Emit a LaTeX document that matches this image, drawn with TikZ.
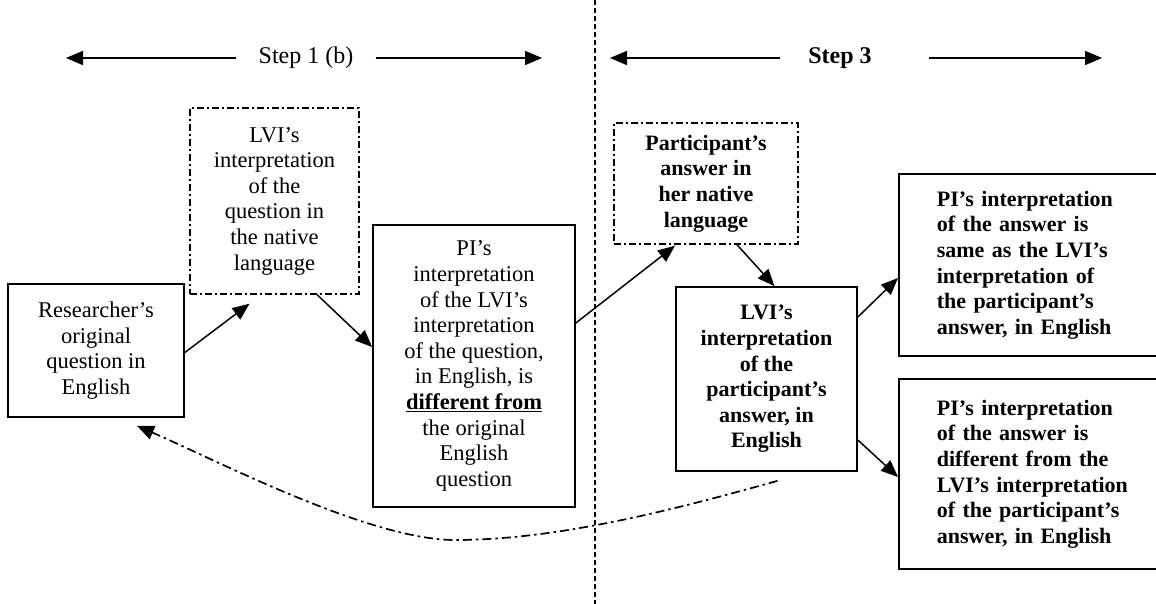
\documentclass[tikz,border=0pt]{standalone}
\usepackage{fontspec}
\setmainfont{Liberation Serif}
\usetikzlibrary{arrows.meta,calc}

\newlength{\du}
\setlength{\du}{1pt}

\tikzset{
  plainbox/.style={draw, line width=1.7pt, align=center, inner sep=0pt,
    font=\fontsize{22.5}{25.6}\selectfont},
  dotbox/.style={plainbox, line width=1.4pt,
    dash pattern=on 7pt off 3pt on 2pt off 3pt},
  sidebox/.style={plainbox, align=left, text width=232\du, inner xsep=38\du,
    anchor=west, font=\fontsize{22}{25.6}\selectfont\bfseries},
  flow/.style={line width=1.5pt, -{Triangle[length=17pt,width=14pt]}},
  backflow/.style={flow, line width=1.7pt,
    dash pattern=on 9pt off 4pt on 2.5pt off 4pt},
  headlabel/.style={inner xsep=22\du, font=\fontsize{24}{28}\selectfont},
  headarrow/.style={line width=1.7pt, -{Triangle[length=17pt,width=14pt]}},
  divider/.style={line width=1.3pt, dash pattern=on 5pt off 3pt}
}

\begin{document}
\begin{tikzpicture}[x=\du,y=-\du]
\clip (0,0) rectangle (1156,604);
\fill[white] (0,0) rectangle (1156,604);

% step headers
\node[headlabel] (st1) at (306,58) {Step 1 (b)};
\node[headlabel, font=\fontsize{24}{28}\selectfont\bfseries] (st3) at (840,58) {Step 3};
\coordinate (st1l) at (66,58);
\coordinate (st1r) at (542,58);
\coordinate (st3l) at (610,58);
\coordinate (st3r) at (1102,58);
\draw[headarrow] (st1.west) -- (st1l);
\draw[headarrow] (st1.east) -- (st1r);
\draw[headarrow] ([xshift=-6\du]st3.west) -- (st3l);
\draw[headarrow] ([xshift=35\du]st3.east) -- (st3r);

% divider between the two steps
\coordinate (divtop) at (595,0);
\coordinate (divbot) at (595,604);
\draw[divider] (divtop) -- (divbot);

% step 1 (b)
\node[plainbox, minimum width=176\du, minimum height=133\du] (res) at (96,350.5)
  {Researcher’s\\original\\question in\\English};
\node[dotbox, minimum width=169\du, minimum height=186\du] (lvq) at (274.5,201)
  {LVI’s\\interpretation\\of the\\question in\\the native\\language};
\node[plainbox, minimum width=202\du, minimum height=282\du] (pid) at (474,366)
  {PI’s\\interpretation\\of the LVI’s\\interpretation\\of the question,\\in English, is\\
   \underline{\textbf{different from}}\\the original\\English\\question};

% step 3
\node[dotbox, minimum width=184\du, minimum height=121\du,
  font=\fontsize{22}{25.6}\selectfont\bfseries] (par) at (706,183.5)
  {Participant’s\\answer in\\her native\\language};
\node[plainbox, minimum width=181\du, minimum height=184\du,
  font=\fontsize{22}{25.6}\selectfont\bfseries] (lva) at (766.5,379)
  {LVI’s\\interpretation\\of the\\participant’s\\answer, in\\English};
\node[sidebox, minimum height=182\du] (same) at (898,265)
  {PI’s interpretation\\of the answer is\\same as the LVI’s\\interpretation of\\the participant’s\\answer, in English};
\node[sidebox, minimum height=190\du] (diff) at (898,474)
  {PI’s interpretation\\of the answer is\\different from the\\LVI’s interpretation\\of the participant’s\\answer, in English};

% connectors
\draw[flow] ($(res.east)+(0,2)$) -- ($(lvq.south)+(-25,9)$);
\draw[flow] ($(lvq.south)!0.5!(lvq.south east)$) -- ($(pid.west)+(0,-19)$);
\draw[flow] ($(pid.east)+(0,-43)$) -- ($(par.south)+(-31,1)$);
\draw[flow] ($(par.south)+(31,0)$) -- ($(lva.north)+(8,0)$);
\draw[flow] ($(lva.east)+(0,-62)$) -- ($(same.west)+(0,13)$);
\draw[flow] ($(lva.east)+(0,61)$) -- ($(diff.west)+(0,3)$);
\draw[backflow] ($(lva.south)+(11,9)$) .. controls (680,508) and (560,540) .. (455,540)
  .. controls (370,540) and (220,462) .. ($(res.south)+(41,8)$);
\end{tikzpicture}
\end{document}
